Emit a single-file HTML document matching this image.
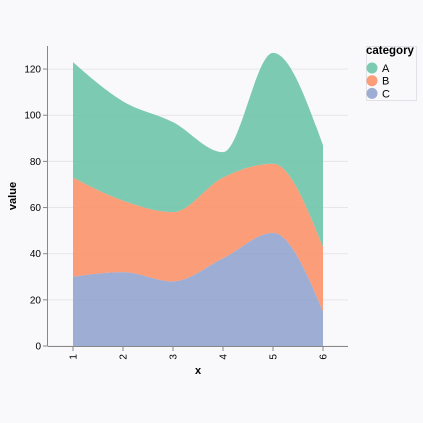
<!DOCTYPE html>
<html><head><meta charset="utf-8"><style>
html,body{margin:0;padding:0;background:#f9f9fc;}
svg{display:block;font-family:"Liberation Sans",sans-serif;}
</style></head><body>
<svg id="chart" width="423" height="423"></svg>
<script>
const categories = [1,2,3,4,5,6];
const seriesNames = ["A","B","C"];
const valuesA = [50,43,39,11,48,44];
const valuesB = [43,31,30,35,30,28];
const valuesC = [30,32,28,38,49,15];
const yTicks = [0,20,40,60,80,100,120];
const colors = {A:"#66c2a5",B:"#fc8d62",C:"#8da0cb"};

const NS="http://www.w3.org/2000/svg";
const svg=document.getElementById('chart');
const L=48,T=46,W=300,H=300,yMax=130;
const step=W/categories.length;
const xs=i=>L+step*(i+0.5);
const ys=v=>T+H-v/yMax*H;
function mk(tag,attrs,parent){const e=document.createElementNS(NS,tag);for(const k in attrs)e.setAttribute(k,attrs[k]);(parent||svg).appendChild(e);return e;}

yTicks.forEach(t=>{
  const g=mk('line',{x1:L,x2:L+W,y1:ys(t),y2:ys(t),stroke:'#e6e6e6'});
  
  
});

function monotone(pts){
  const n=pts.length;if(n<2)return '';
  const d=[],m=[];
  for(let i=0;i<n-1;i++){d.push((pts[i+1][1]-pts[i][1])/(pts[i+1][0]-pts[i][0]));}
  for(let i=0;i<n;i++){
    if(i===0||i===n-1){m.push(0);continue;}
    const h0=pts[i][0]-pts[i-1][0],h1=pts[i+1][0]-pts[i][0];
    const s0=d[i-1],s1=d[i];
    const p=(s0*h1+s1*h0)/(h0+h1);
    m.push((Math.sign(s0)+Math.sign(s1))*Math.min(Math.abs(s0),Math.abs(s1),0.5*Math.abs(p))||0);
  }
  m[0]=(3*d[0]-m[1])/2;
  m[n-1]=(3*d[n-2]-m[n-2])/2;
  let s='';
  for(let i=0;i<n-1;i++){
    const dx=(pts[i+1][0]-pts[i][0])/3;
    s+=`C${pts[i][0]+dx},${pts[i][1]+dx*m[i]},${pts[i+1][0]-dx},${pts[i+1][1]-dx*m[i+1]},${pts[i+1][0]},${pts[i+1][1]}`;
  }
  return s;
}
const data={A:valuesA,B:valuesB,C:valuesC};
const order=["C","B","A"];
let base=categories.map(()=>0);
order.forEach(name=>{
  const top=base.map((b,i)=>b+data[name][i]);
  const up=top.map((v,i)=>[xs(i),ys(v)]);
  const dn=base.map((v,i)=>[xs(i),ys(v)]).reverse();
  const path=`M${up[0][0]},${up[0][1]}`+monotone(up)+`L${dn[0][0]},${dn[0][1]}`+monotone(dn)+'Z';
  const p=mk('path',{d:path,fill:colors[name],'fill-opacity':0.85});
  
  
  base=top;
});

const ax=mk('line',{x1:L,x2:L+W,y1:T+H+0.5,y2:T+H+0.5,stroke:'#888'});

const ay=mk('line',{x1:L-0.5,x2:L-0.5,y1:T,y2:T+H,stroke:'#888'});

yTicks.forEach(t=>{
  const tk=mk('line',{x1:L-5,x2:L,y1:ys(t),y2:ys(t),stroke:'#888'});
  
  const tx=mk('text',{x:L-7,y:ys(t)+3.5,'text-anchor':'end','font-size':10,fill:'#000'});
  tx.textContent=t;
  
});
categories.forEach((c,i)=>{
  const tk=mk('line',{x1:xs(i),x2:xs(i),y1:T+H,y2:T+H+5,stroke:'#888'});
  
  const tx=mk('text',{x:0,y:0,'text-anchor':'end','font-size':10,fill:'#000',transform:`translate(${xs(i)+3.5},${T+H+8}) rotate(-90)`});
  tx.textContent=c;
  
});
const xt=mk('text',{x:L+W/2,y:374,'text-anchor':'middle','font-size':11,'font-weight':'bold'});
xt.textContent='x';
const yt=mk('text',{x:0,y:0,'text-anchor':'middle','font-size':11,'font-weight':'bold',transform:`translate(16,${T+H/2}) rotate(-90)`});
yt.textContent='value';

const lb=mk('rect',{x:366.5,y:46.5,width:50,height:54,fill:'none',stroke:'#e2e2e6'});

const lt=mk('text',{x:366,y:54,'font-size':11.5,'font-weight':'bold'});
lt.textContent='category';
seriesNames.forEach((n,i)=>{
  const y=68+i*12.7;
  const c=mk('circle',{cx:372,cy:y,r:5.5,fill:colors[n],'fill-opacity':0.85});
  
  const t=mk('text',{x:382,y:y+4,'font-size':11});
  t.textContent=n;
});
</script>
</body></html>
